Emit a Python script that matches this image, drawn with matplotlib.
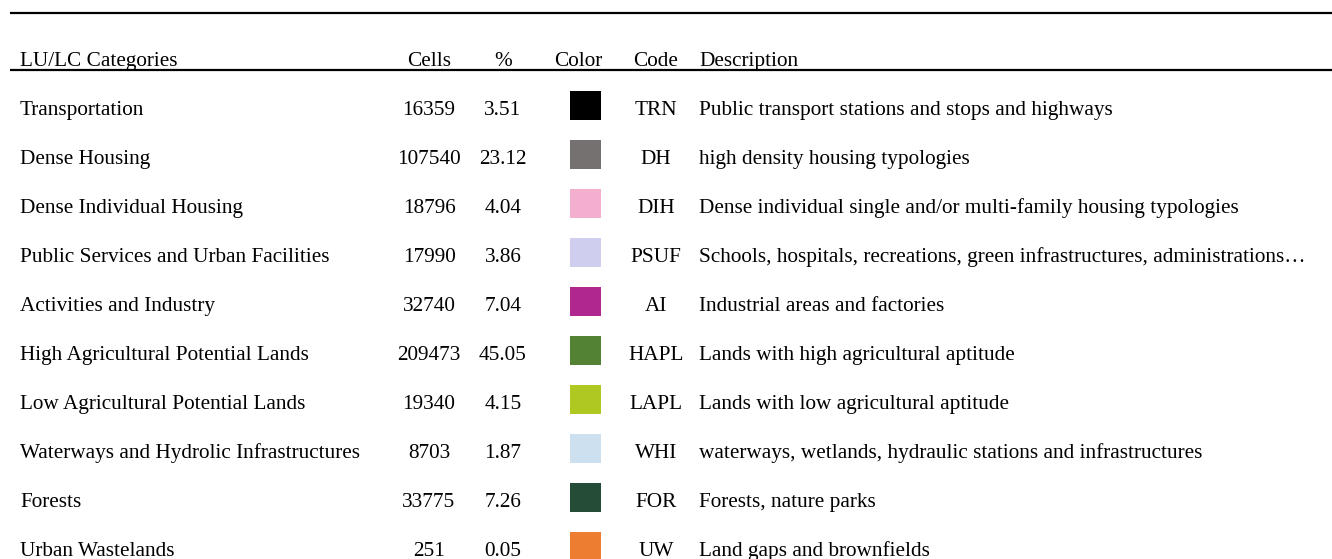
import matplotlib
matplotlib.use('Agg')
import matplotlib.pyplot as plt
from matplotlib.patches import Rectangle

# table content
categories = [
    'Transportation', 'Dense Housing', 'Dense Individual Housing',
    'Public Services and Urban Facilities', 'Activities and Industry',
    'High Agricultural Potential Lands', 'Low Agricultural Potential Lands',
    'Waterways and Hydrolic Infrastructures', 'Forests', 'Urban Wastelands',
]
cells = [16359, 107540, 18796, 17990, 32740, 209473, 19340, 8703, 33775, 251]
percent = [3.51, 23.12, 4.04, 3.86, 7.04, 45.05, 4.15, 1.87, 7.26, 0.05]
colors = ['#000000', '#767171', '#F4AFCE', '#CFCEEE', '#B0278F',
          '#548235', '#B0C922', '#CCE0F0', '#244C36', '#ED7D31']
codes = ['TRN', 'DH', 'DIH', 'PSUF', 'AI', 'HAPL', 'LAPL', 'WHI', 'FOR', 'UW']
descriptions = [
    'Public transport stations and stops and highways',
    'high density housing typologies',
    'Dense individual single and/or multi-family housing typologies',
    'Schools, hospitals, recreations, green infrastructures, administrations\u2026',
    'Industrial areas and factories',
    'Lands with high agricultural aptitude',
    'Lands with low agricultural aptitude',
    'waterways, wetlands, hydraulic stations and infrastructures',
    'Forests, nature parks',
    'Land gaps and brownfields',
]
headers = ['LU/LC Categories', 'Cells', '%', 'Color', 'Code', 'Description']

# layout: x in pixels, y in row units
W, H = 1332, 559
ROW0, STEP = 105.5, 49.0
X_CAT, X_CELLS, X_PCT, X_COLOR, X_CODE, X_DESC = 20, 429, 503, 585.5, 656, 699
X_COLOR_HDR = 578
FS = 15.3


def row(px):
    return (px - ROW0) / STEP


plt.rcParams['font.family'] = ['Liberation Serif', 'DejaVu Serif']

fig = plt.figure(figsize=(W / 100, H / 100), dpi=100)
ax = fig.add_axes([0, 0, 1, 1])
ax.set_xlim(0, W)
ax.set_ylim(row(H), row(0))
ax.axis('off')

# rules
ax.plot([10, W], [row(13), row(13)], color='black', lw=1.6, solid_capstyle='butt')
ax.plot([10, W], [row(70), row(70)], color='black', lw=1.6, solid_capstyle='butt')

# header
hy = row(66)
ax.text(X_CAT, hy, headers[0], fontsize=FS, va='baseline', ha='left')
ax.text(X_CELLS, hy, headers[1], fontsize=FS, va='baseline', ha='center')
ax.text(X_PCT, hy, headers[2], fontsize=FS, va='baseline', ha='center')
ax.text(X_COLOR_HDR, hy, headers[3], fontsize=FS, va='baseline', ha='center')
ax.text(X_CODE, hy, headers[4], fontsize=FS, va='baseline', ha='center')
ax.text(X_DESC, hy, headers[5], fontsize=FS, va='baseline', ha='left')

base = 9.5 / STEP
sq_w, sq_h = 31, 29 / STEP
for i, (cat, n, p, c, code, desc) in enumerate(
        zip(categories, cells, percent, colors, codes, descriptions)):
    yb = i + base
    ax.text(X_CAT, yb, cat, fontsize=FS, va='baseline', ha='left')
    ax.text(X_CELLS, yb, str(n), fontsize=FS, va='baseline', ha='center')
    ax.text(X_PCT, yb, f'{p:.2f}', fontsize=FS, va='baseline', ha='center')
    ax.add_patch(Rectangle((X_COLOR - sq_w / 2, i - sq_h / 2), sq_w, sq_h,
                           facecolor=c, edgecolor='none'))
    ax.text(X_CODE, yb, code, fontsize=FS, va='baseline', ha='center')
    ax.text(X_DESC, yb, desc, fontsize=FS, va='baseline', ha='left')

fig.savefig('out.png', dpi=100)
